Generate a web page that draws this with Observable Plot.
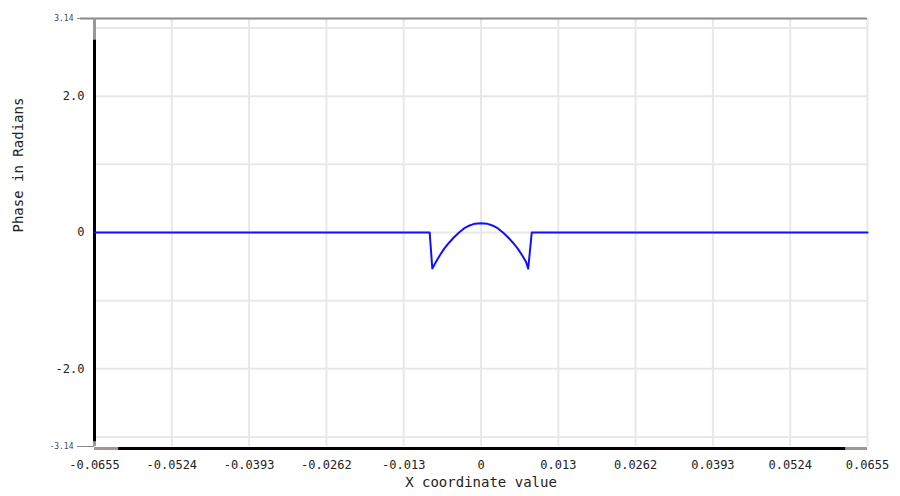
<!DOCTYPE html>
<html><head><meta charset="utf-8">
<script src="https://cdn.jsdelivr.net/npm/d3@7"></script>
<script src="https://cdn.jsdelivr.net/npm/@observablehq/plot@0.6"></script>
<style>body{margin:0;background:#fff;overflow:hidden}</style>
</head><body><div id="chart"></div>
<script>
// X positions of the phase curve
const xValues = [-0.0655, -0.0087, -0.00825, -0.00762, -0.00694, -0.00626, -0.00542, -0.00457, -0.00372, -0.00288, -0.00203, -0.00102, 0,
  0.00102, 0.00203, 0.00288, 0.00372, 0.00457, 0.00542, 0.00626, 0.00694, 0.00762, 0.0080, 0.0086, 0.0655];
// Phase values in radians
const phaseValues = [0, 0, -0.53, -0.43, -0.33, -0.24, -0.15, -0.07, 0.0, 0.06, 0.10, 0.13, 0.137,
  0.13, 0.10, 0.06, 0.0, -0.07, -0.15, -0.24, -0.33, -0.43, -0.53, 0, 0];
const xTicks = [-0.0655, -0.0524, -0.0393, -0.0262, -0.0131, 0, 0.0131, 0.0262, 0.0393, 0.0524, 0.0655];
const xTickLabels = ["-0.0655", "-0.0524", "-0.0393", "-0.0262", "-0.013", "0", "0.013", "0.0262", "0.0393", "0.0524", "0.0655"];
const yTicks = [2.0, 0, -2.0];
const yTickLabels = ["2.0", "0", "-2.0"];
const yEndTicks = [3.14, -3.14];
const yEndLabels = ["3.14", "-3.14"];
const yGrid = [-3, -2, -1, 0, 1, 2, 3];
const xTitle = "X coordinate value";
const yTitle = "Phase in Radians";

const data = xValues.map((x, i) => ({x, y: phaseValues[i]}));
const X0 = -0.0655, X1 = 0.0655, Y0 = -3.14, Y1 = 3.14;
const font = "DejaVu Sans Mono, monospace";

const chart = Plot.plot({
  width: 900, height: 496,
  marginLeft: 94, marginRight: 33, marginTop: 18, marginBottom: 50,
  style: {fontFamily: font, background: "#fff", overflow: "visible"},
  x: {domain: [X0, X1]},
  y: {domain: [Y0, Y1]},
  marks: [
    Plot.gridX(xTicks, {stroke: "#e8e8e8", strokeOpacity: 1, strokeWidth: 2}),
    Plot.gridY(yGrid, {stroke: "#e8e8e8", strokeOpacity: 1, strokeWidth: 2}),
    // top border
    Plot.ruleY([Y1], {stroke: "#8a8a8a", strokeWidth: 2, insetLeft: -14}),
    // left axis bar
    Plot.ruleX([X0], {y1: Y0, y2: Y1, stroke: "#999", strokeWidth: 3}),
    Plot.ruleX([X0], {y1: -3.07, y2: 2.82, stroke: "#000", strokeWidth: 3}),
    // bottom axis bar
    Plot.ruleY([Y0], {x1: X0, x2: X1, stroke: "#999", strokeWidth: 3, dy: 2}),
    Plot.ruleY([Y0], {x1: -0.0614, x2: 0.0618, stroke: "#000", strokeWidth: 3, dy: 2}),
    Plot.axisX(xTicks, {tickFormat: (d, i) => xTickLabels[i], tickSize: 0, tickPadding: 14, fontSize: 12, fill: "#222", label: null}),
    Plot.axisY(yTicks, {tickFormat: (d, i) => yTickLabels[i], tickSize: 0, tickPadding: 10, fontSize: 12, fill: "#222", label: null}),
    Plot.axisY(yEndTicks, {tickFormat: (d, i) => yEndLabels[i], tickSize: 17, tickPadding: 4, fontSize: 8, fill: "#445", stroke: "#888", label: null}),
    Plot.line(data, {x: "x", y: "y", stroke: "#1010ff", strokeWidth: 2}),
    Plot.text([xTitle], {frameAnchor: "bottom", dy: 40, fontSize: 14, fill: "#222", fontFamily: font}),
    Plot.text([yTitle], {frameAnchor: "left", dx: -76, rotate: -90, fontSize: 14, fill: "#222", fontFamily: font})
  ]
});
document.getElementById("chart").append(chart);
</script>
</body></html>
